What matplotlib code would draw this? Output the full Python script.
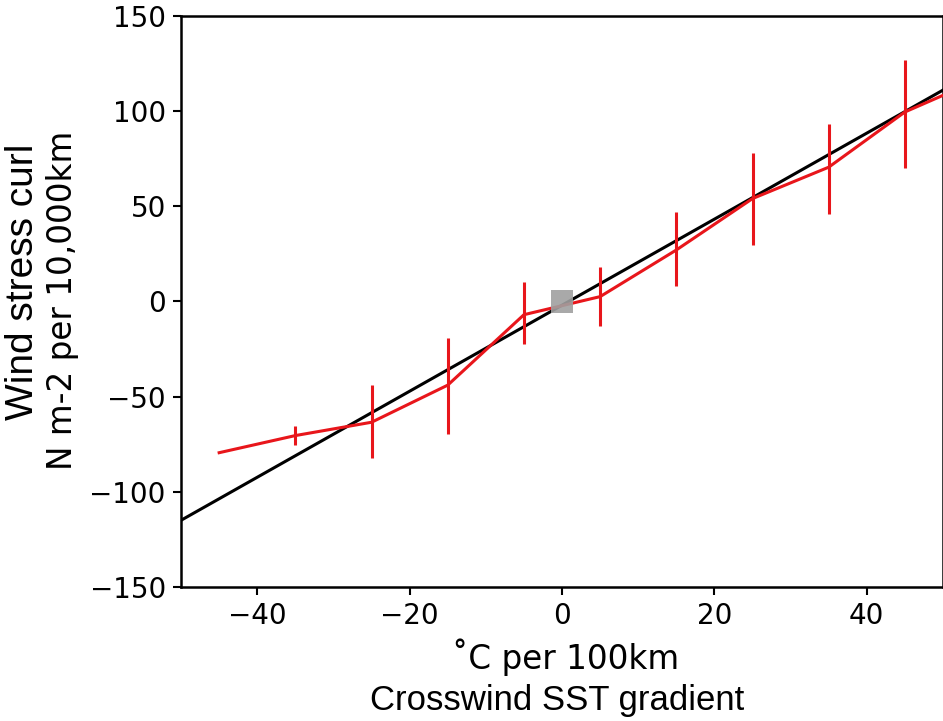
import matplotlib.pyplot as plt
import numpy as np

# binned wind stress curl vs crosswind SST gradient
sst_grad = [-45, -35, -25, -15, -5, 5, 15, 25, 35, 45, 55]
curl = [-79.5, -70.5, -63.5, -44, -7, 2.5, 27, 54, 70.5, 99.5, 117]
err_lo = [0, 5, 19, 25.5, 15.5, 15.5, 19, 24.5, 24.5, 29.5, 0]
err_hi = [0, 5, 19.5, 25, 17, 15.5, 20, 24, 22.5, 27.5, 0]

# linear fit line
fit_x = [-50, 50]
fit_y = [-115, 111]

# grey square near the origin
box_x = [0]
box_y = [0]

fig = plt.figure(figsize=(9.43, 7.21), dpi=100)
ax = fig.add_axes([0.192, 0.186, 0.808, 0.792])

ax.plot(fit_x, fit_y, color='black', lw=2.2, zorder=3)
ax.errorbar(sst_grad, curl, yerr=[err_lo, err_hi], color='#e8161b', lw=2.2,
            elinewidth=2.2, capsize=0, zorder=4)
ax.scatter(box_x, box_y, marker='s', s=260, color='#a0a0a0', alpha=0.9,
           edgecolors='none', zorder=5)

ax.set_xlim(-50, 50)
ax.set_ylim(-150, 150)
ax.set_xticks([-40, -20, 0, 20, 40])
ax.set_yticks([-150, -100, -50, 0, 50, 100, 150])
ax.tick_params(labelsize=20, length=6, width=1.5, pad=5)
for s in ax.spines.values():
    s.set_linewidth(1.8)

fig.text(0.6, 0.089, '˚C per 100km', ha='center', va='center', fontsize=23.5)
fig.text(0.591, 0.029, 'Crosswind SST gradient', ha='center', va='center',
         fontsize=25, family='Liberation Sans')
fig.text(0.024, 0.609, 'Wind stress curl', ha='center', va='center',
         rotation=90, fontsize=28, family='Liberation Sans')
fig.text(0.066, 0.584, 'N m-2 per 10,000km', ha='center', va='center',
         rotation=90, fontsize=23.5)

fig.savefig('out.png', dpi=100)
